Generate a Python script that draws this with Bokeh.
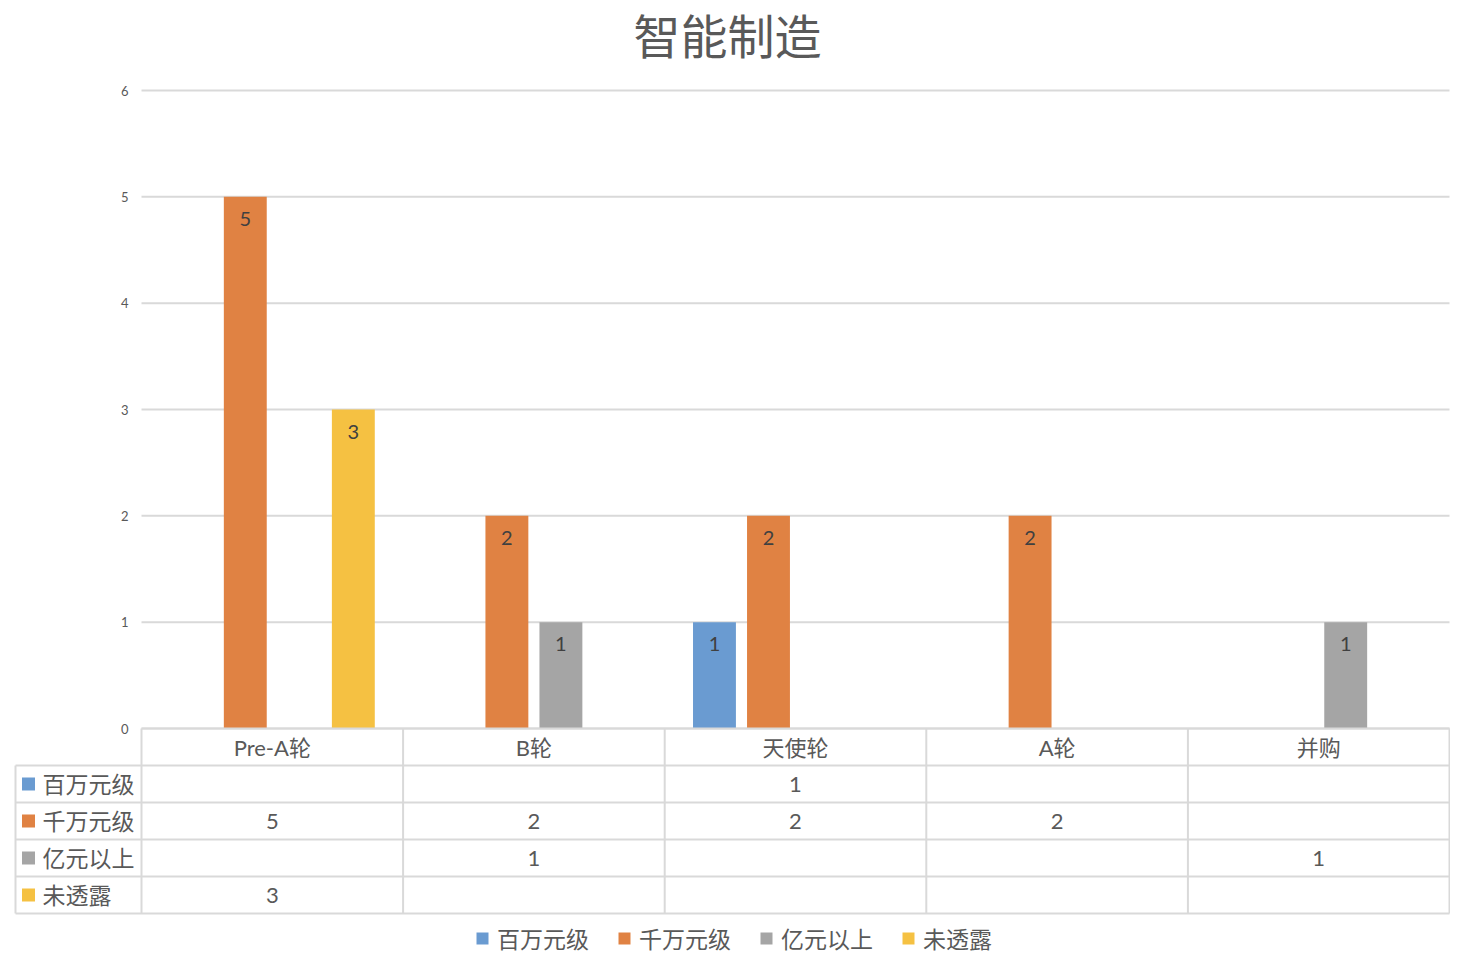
from bokeh.plotting import figure
from bokeh.models import (ColumnDataSource, Range1d, FixedTicker, LinearAxis,
                          Legend, LegendItem, Label)
from bokeh.embed import file_html
from bokeh.resources import INLINE
from bokeh.core.properties import value

# ---------------- data ----------------
chart_title = "智能制造"
categories = ["Pre-A轮", "B轮", "天使轮", "A轮", "并购"]
series_names = ["百万元级", "千万元级", "亿元以上", "未透露"]
s_baiwan = [None, None, 1, None, None]
s_qianwan = [5, 2, 2, 2, None]
s_yiyuan = [None, 1, None, None, 1]
s_weitoulu = [3, None, None, None, None]
series_values = [s_baiwan, s_qianwan, s_yiyuan, s_weitoulu]
colors = ["#6A9BD1", "#E08243", "#A5A5A5", "#F5C142"]
y_ticks = [0, 1, 2, 3, 4, 5, 6]

# ---------------- layout / style ----------------
W, H = 1450, 952
FONT = "Lato, 'Noto Sans CJK SC', sans-serif"
TXT = "#595959"
LBL = "#404040"
GRID = "#D9D9D9"
X0_PX = 141.0           # pixel of the plot area's left edge
CAT_PX = 261.6          # pixel width of one category
Y0_PX = 728.0           # pixel of value 0
UNIT_PX = 106.33        # pixels per value unit
ROW_PX = 37.0           # table row height

ncat = len(categories)
n = len(series_names)

p = figure(width=W, height=H, output_backend="svg", toolbar_location=None,
           x_range=Range1d(-X0_PX / CAT_PX, (W - X0_PX) / CAT_PX),
           y_range=Range1d((Y0_PX - H) / UNIT_PX, Y0_PX / UNIT_PX),
           x_axis_location=None, y_axis_location=None,
           min_border=0)
p.extra_y_ranges = {"tbl": Range1d((H - Y0_PX) / ROW_PX, -Y0_PX / ROW_PX)}
p.outline_line_color = None
p.background_fill_color = "white"
p.border_fill_color = "white"
p.xgrid.visible = False
p.ygrid.visible = False

# value axis, drawn at the left edge of the plot area
yax = LinearAxis(ticker=FixedTicker(ticks=y_ticks), fixed_location=0,
                 bounds=(y_ticks[0], y_ticks[-1]))
yax.axis_line_color = None
yax.major_tick_line_color = None
yax.minor_tick_line_color = None
yax.major_tick_out = 0
yax.major_tick_in = 0
yax.major_label_text_font = FONT
yax.major_label_text_font_size = "13px"
yax.major_label_text_color = TXT
yax.major_label_standoff = 13
p.add_layout(yax, "left")

# horizontal grid lines across the plot area
p.segment(x0=[0] * len(y_ticks), y0=y_ticks, x1=[ncat] * len(y_ticks), y1=y_ticks,
          line_color=GRID, line_width=2)

# title
p.add_layout(Label(x=727, y=H - 35, x_units="screen", y_units="screen",
                   text=chart_title, text_align="center", text_baseline="middle",
                   text_font=FONT, text_font_size="47px", text_color=TXT))

# bars + labels
slot = 0.2065
bar_w = 0.164
for k, (name, vals, col) in enumerate(zip(series_names, series_values, colors)):
    off = (k - (n - 1) / 2) * slot
    idx = [i for i, v in enumerate(vals) if v is not None]
    src = ColumnDataSource(dict(x=[i + 0.5 + off for i in idx],
                                val=[vals[i] for i in idx],
                                lbl=[str(vals[i]) for i in idx]))
    p.vbar(x="x", top="val", bottom=0, width=bar_w,
           fill_color=col, line_color=None, source=src)
    p.text(x="x", y="val", text="lbl", y_offset=22,
           text_align="center", text_baseline="middle",
           text_font=value(FONT), text_font_size="20px", text_color=LBL,
           source=src)

# ---------------- data table ----------------
LEFT = -126 / CAT_PX
nrows = n + 1
row_edges = list(range(1, nrows + 1))
t_kw = dict(y_range_name="tbl", line_color=GRID, line_width=2)
# horizontal lines
p.segment(x0=[0], y0=[0], x1=[ncat], y1=[0], **t_kw)
p.segment(x0=[LEFT] * len(row_edges), y0=row_edges,
          x1=[ncat] * len(row_edges), y1=row_edges, **t_kw)
# vertical lines
p.segment(x0=[LEFT], y0=[1], x1=[LEFT], y1=[nrows], **t_kw)
p.segment(x0=list(range(ncat + 1)), y0=[0] * (ncat + 1),
          x1=list(range(ncat + 1)), y1=[nrows] * (ncat + 1), **t_kw)

# header row
p.text(x=[i + 0.5 for i in range(ncat)], y=[0.5] * ncat, text=categories,
       y_range_name="tbl", text_align="center", text_baseline="middle",
       text_font=value(FONT), text_font_size="22px", text_color=TXT)

legend_items = []
for k, (name, vals, col) in enumerate(zip(series_names, series_values, colors)):
    row_y = k + 1.5
    idx = [i for i, v in enumerate(vals) if v is not None]
    src = ColumnDataSource(dict(x=[i + 0.5 for i in idx], y=[row_y] * len(idx),
                                lbl=[str(vals[i]) for i in idx]))
    p.text(x="x", y="y", text="lbl", y_range_name="tbl",
           text_align="center", text_baseline="middle",
           text_font=value(FONT), text_font_size="22px", text_color=TXT, source=src)
    sq = p.scatter(x=[LEFT + 13 / CAT_PX], y=[row_y], y_range_name="tbl",
                   marker="square", size=13, fill_color=col, line_color=None)
    p.text(x=[LEFT + 27 / CAT_PX], y=[row_y], text=[name], y_range_name="tbl",
           text_align="left", text_baseline="middle", text_font=value(FONT),
           text_font_size="23px", text_color=TXT)
    legend_items.append(LegendItem(label=name, renderers=[sq]))

legend = Legend(items=legend_items, orientation="horizontal",
                location=(467, -3), glyph_width=30, glyph_height=30,
                label_standoff=0, spacing=20, padding=0, margin=0,
                border_line_color=None, background_fill_alpha=0,
                label_text_font=FONT, label_text_font_size="23px",
                label_text_color=TXT)
p.add_layout(legend, "center")

open("out.html", "w").write(file_html(p, INLINE))
